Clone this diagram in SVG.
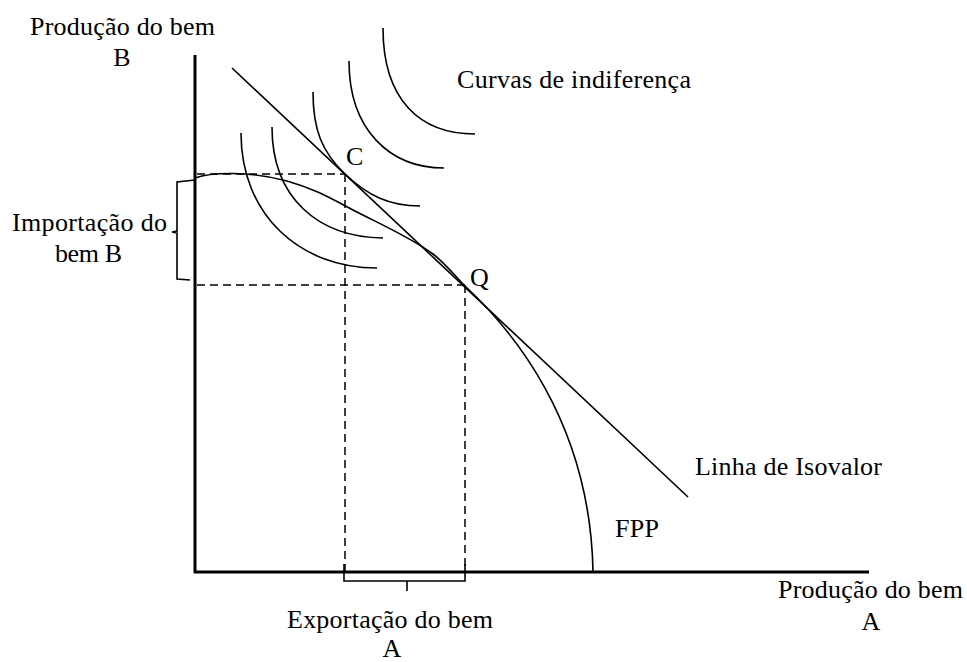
<svg xmlns="http://www.w3.org/2000/svg" width="967" height="662" viewBox="0 0 967 662">
<style>
text{font-family:"Liberation Serif","Times New Roman",serif;font-size:26px;fill:#000}
.ax{stroke:#000;stroke-width:3;fill:none}
.ln{stroke:#000;stroke-width:1.6;fill:none}
.ds{stroke:#000;stroke-width:1.5;fill:none;stroke-dasharray:8,5}
</style>
<rect width="967" height="662" fill="#fff"/>
<g id="axes">
<line class="ax" x1="195" y1="55" x2="195" y2="573"/>
<line class="ax" x1="194" y1="572" x2="869" y2="572"/>
</g>
<g id="guides">
<line class="ds" x1="197" y1="174" x2="345" y2="174"/>
<line class="ds" x1="197" y1="285" x2="465" y2="285"/>
<line class="ds" x1="345" y1="174" x2="345" y2="573"/>
<line class="ds" x1="465" y1="285" x2="465" y2="573"/>
</g>
<g id="braces">
<path class="ln" d="M195,180 L177,182 L177,231 L172,232 L177,233 L177,279 L190,280"/>
<path class="ln" d="M344,564 L344,581 L465,581 L465,564 M407,581 L407,591"/>
</g>
<g id="isovalor">
<line class="ln" x1="232" y1="68" x2="688" y2="497"/>
</g>
<g id="fpp">
<path class="ln" d="M195,178 C212,172 250,171 287,181 C315,189 330,198 353,210 C380,224 410,237 433,254 C445,263 455,276 465,286 C510,328 590,420 593,571"/>
</g>
<g id="indiferenca">
<path class="ln" d="M241,133 C241,215 300,268 377,268"/>
<path class="ln" d="M272,127 C272,198 318,237 383,238"/>
<path class="ln" d="M313,92 C313,130 322,152 345,174 C368,196 390,206 420,206"/>
<path class="ln" d="M349,61 C349,130 390,168 444,168"/>
<path class="ln" d="M383,28 C383,100 420,134 475,134"/>
</g>
<g id="labels">
<text x="30" y="35" textLength="185" lengthAdjust="spacing">Produção do bem</text>
<text x="122" y="66" text-anchor="middle">B</text>
<text x="457" y="88" textLength="234" lengthAdjust="spacing">Curvas de indiferença</text>
<text x="346" y="165">C</text>
<text x="470" y="286">Q</text>
<text x="12" y="231" textLength="155" lengthAdjust="spacing">Importação do</text>
<text x="55" y="262" textLength="67" lengthAdjust="spacing">bem B</text>
<text x="695" y="475" textLength="187" lengthAdjust="spacing">Linha de Isovalor</text>
<text x="615" y="537" textLength="44" lengthAdjust="spacing">FPP</text>
<text x="778" y="598" textLength="185" lengthAdjust="spacing">Produção do bem</text>
<text x="871" y="630" text-anchor="middle">A</text>
<text x="287" y="628" textLength="206" lengthAdjust="spacing">Exportação do bem</text>
<text x="392" y="657" text-anchor="middle">A</text>
</g>
</svg>
